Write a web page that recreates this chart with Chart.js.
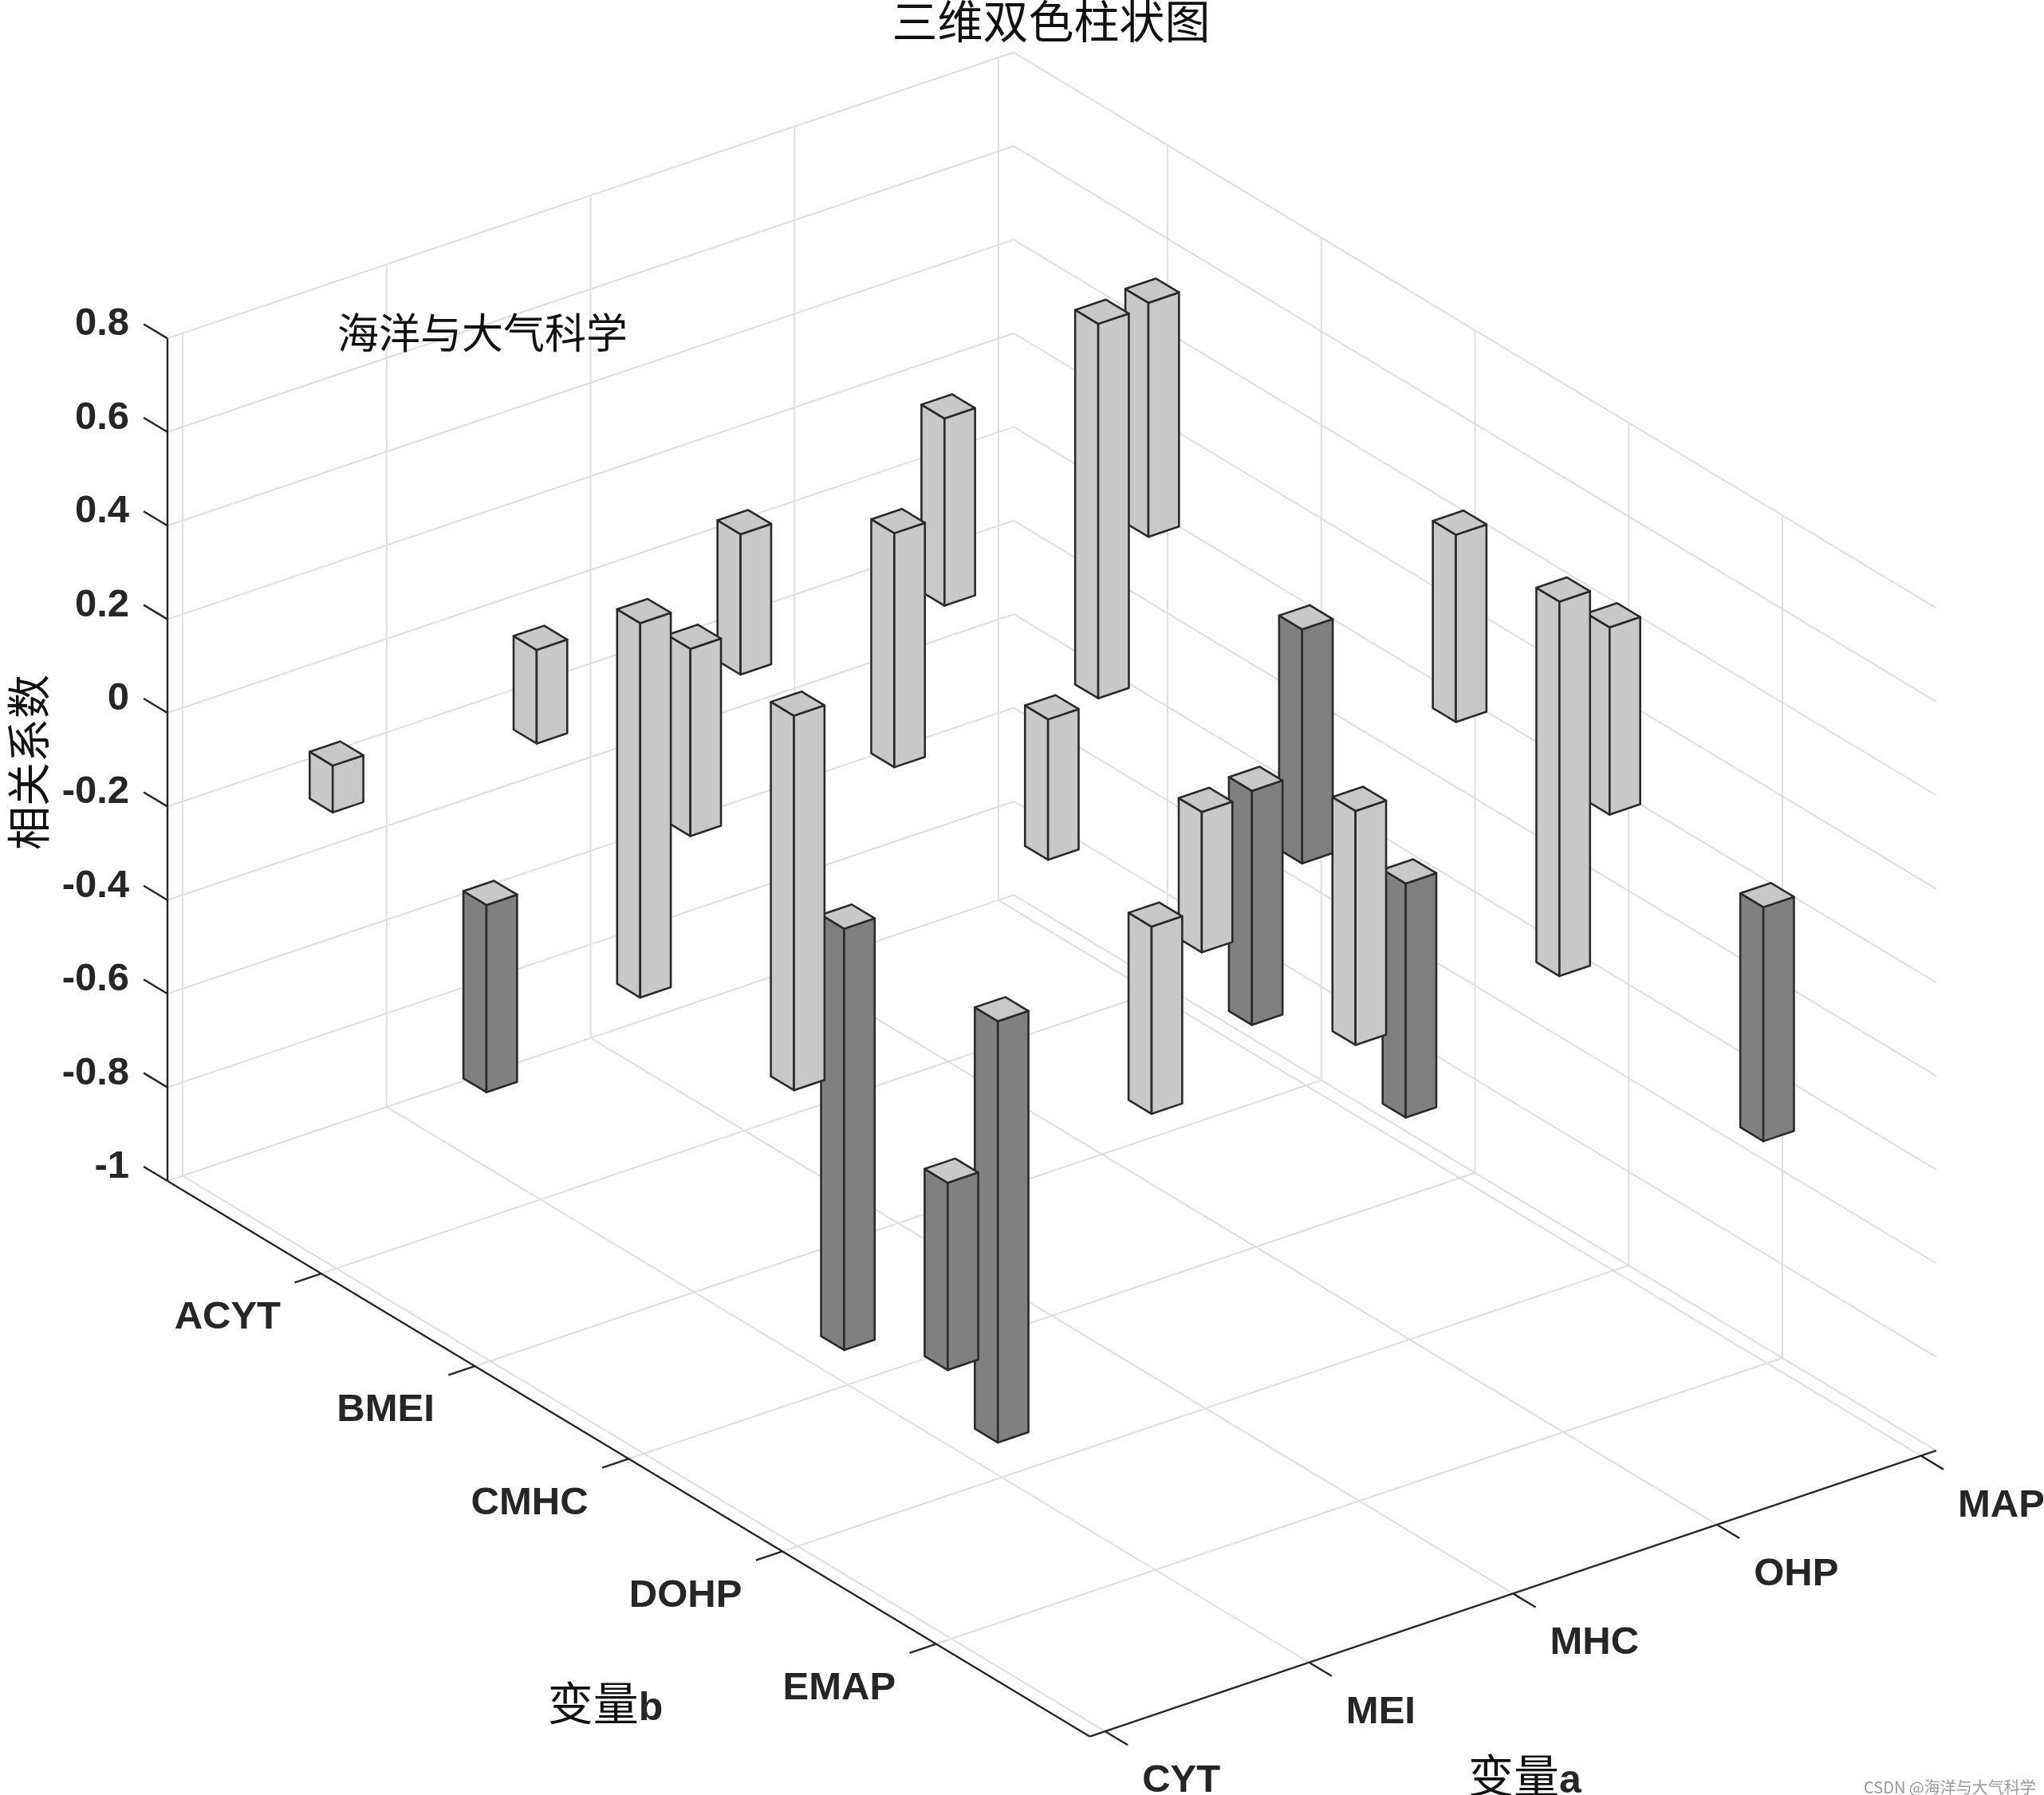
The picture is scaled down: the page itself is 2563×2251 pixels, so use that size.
<!DOCTYPE html>
<html>
<head>
<meta charset="utf-8">
<script src="https://cdn.jsdelivr.net/npm/chart.js@4.4.1/dist/chart.umd.min.js"></script>
<style>
html,body{margin:0;padding:0;background:#ffffff;overflow:hidden}
#wrap{width:2563px;height:2251px;position:relative}
canvas{display:block}
</style>
</head>
<body>
<div id="wrap"><canvas id="c" width="2563" height="2251"></canvas></div>
<script>
// ---------------- data ----------------
const varA = ['CYT', 'MEI', 'MHC', 'OHP', 'MAP'];          // 变量a
const varB = ['ACYT', 'BMEI', 'CMHC', 'DOHP', 'EMAP'];     // 变量b
const zTicks = [-1, -0.8, -0.6, -0.4, -0.2, 0, 0.2, 0.4, 0.6, 0.8];
const zTickLabels = ['-1', '-0.8', '-0.6', '-0.4', '-0.2', '0', '0.2', '0.4', '0.6', '0.8'];
// correlation of each 变量a row against ACYT..EMAP
const valCYT = [0.10, -0.40, 0.80, 0.80, -0.40];
const valMEI = [0.20, 0.40, -0.90, -0.90, 0.40];
const valMHC = [0.30, 0.50, 0.30, 0.30, 0.50];
const valOHP = [0.40, 0.80, -0.50, -0.50, 0.80];
const valMAP = [0.50, -0.50, 0.40, 0.40, -0.50];
const values = [valCYT, valMEI, valMHC, valOHP, valMAP];

const titleText = '三维双色柱状图';
const noteText = '海洋与大气科学';
const zTitle = '相关系数';
const watermark = 'CSDN @海洋与大气科学';

// ---------------- geometry / style ----------------
const GEOM = { aMin: 0.925, aMax: 5.075, bMin: 0, bMax: 6, zMin: -1, zMax: 0.8, barW: 0.15 };
// oblique projection of the 3-D box onto the 2-D (u,v) plane of the chart scales
const PROJ = { ax: 0.4356, ay: 0.1472, bx: 0.3284, by: -0.1978 };
const STYLE = {
  grid: '#dedede', axis: '#262626', edge: '#2a2a2a',
  pos: '#c8c8c8', neg: '#808080', top: '#c8c8c8',
  latin: "'Liberation Sans', Arial, sans-serif",
  cjk: "'Noto Sans CJK SC', 'Noto Sans CJK JP', sans-serif"
};

const bar3dPlugin = {
  id: 'bar3d',
  afterDraw(chart) {
    const ctx = chart.ctx, xs = chart.scales.x, ys = chart.scales.y;
    const P = (a, b, z) => {
      const u = (a - GEOM.aMin) * PROJ.ax + (b - GEOM.bMin) * PROJ.bx;
      const v = z + (a - GEOM.aMin) * PROJ.ay + (b - GEOM.bMin) * PROJ.by;
      return [xs.getPixelForValue(u), ys.getPixelForValue(v)];
    };
    const line = (p, q) => { ctx.beginPath(); ctx.moveTo(p[0], p[1]); ctx.lineTo(q[0], q[1]); ctx.stroke(); };
    const poly = (pts, fill) => {
      ctx.beginPath();
      ctx.moveTo(pts[0][0], pts[0][1]);
      for (let i = 1; i < pts.length; i++) ctx.lineTo(pts[i][0], pts[i][1]);
      ctx.closePath();
      ctx.fillStyle = fill; ctx.fill(); ctx.stroke();
    };
    const aPos = varA.map((_, i) => i + 1);
    const bPos = varB.map((_, i) => i + 1);
    const { aMin, aMax, bMin, bMax, zMin, zMax, barW } = GEOM;

    ctx.save();
    // ---- grid: back-left wall, back-right wall, floor ----
    ctx.strokeStyle = STYLE.grid; ctx.lineWidth = 2;
    aPos.forEach(a => line(P(a, bMin, zMin), P(a, bMin, zMax)));
    zTicks.forEach(z => line(P(aMin, bMin, z), P(aMax, bMin, z)));
    bPos.forEach(b => line(P(aMax, b, zMin), P(aMax, b, zMax)));
    zTicks.forEach(z => line(P(aMax, bMin, z), P(aMax, bMax, z)));
    aPos.forEach(a => line(P(a, bMin, zMin), P(a, bMax, zMin)));
    bPos.forEach(b => line(P(aMin, b, zMin), P(aMax, b, zMin)));

    // ---- axes ----
    ctx.strokeStyle = STYLE.axis; ctx.lineWidth = 2.4;
    line(P(aMin, bMin, zMin), P(aMin, bMin, zMax));
    line(P(aMin, bMin, zMin), P(aMin, bMax, zMin));
    line(P(aMin, bMax, zMin), P(aMax, bMax, zMin));
    ctx.fillStyle = STYLE.axis;
    ctx.font = 'bold 49px ' + STYLE.latin;
    ctx.textBaseline = 'alphabetic';
    // z ticks
    ctx.textAlign = 'right';
    zTicks.forEach((z, i) => {
      const p = P(aMin, bMin, z), q = P(aMin, bMin - 0.155, z);
      line(p, q);
      ctx.fillText(zTickLabels[i], q[0] - 18, q[1] + 14);
    });
    // b ticks
    bPos.forEach((b, i) => {
      const p = P(aMin, b, zMin), q = P(aMin - 0.13, b, zMin);
      line(p, q);
      ctx.fillText(varB[i], q[0] - 17.5, q[1] + 58);
    });
    // a ticks
    ctx.textAlign = 'left';
    aPos.forEach((a, i) => {
      const p = P(a, bMax, zMin), q = P(a, bMax + 0.147, zMin);
      line(p, q);
      ctx.fillText(varA[i], q[0] + 18, q[1] + 59);
    });

    // ---- bars (painter's order: far to near) ----
    const bars = [];
    values.forEach((row, i) => row.forEach((val, j) => bars.push({ a: aPos[i], b: bPos[j], val })));
    bars.sort((m, n) => P(m.a, m.b, 0)[1] - P(n.a, n.b, 0)[1]);
    ctx.strokeStyle = STYLE.edge; ctx.lineWidth = 2.6; ctx.lineJoin = 'round';
    bars.forEach(({ a, b, val }) => {
      const lo = Math.min(0, val), hi = Math.max(0, val);
      const a0 = a - barW / 2, a1 = a + barW / 2, b0 = b - barW / 2, b1 = b + barW / 2;
      const side = val >= 0 ? STYLE.pos : STYLE.neg;
      poly([P(a0, b0, lo), P(a0, b1, lo), P(a0, b1, hi), P(a0, b0, hi)], side);
      poly([P(a0, b1, lo), P(a1, b1, lo), P(a1, b1, hi), P(a0, b1, hi)], side);
      poly([P(a0, b0, hi), P(a0, b1, hi), P(a1, b1, hi), P(a1, b0, hi)], STYLE.top);
    });

    // ---- texts ----
    ctx.fillStyle = '#111111';
    ctx.textAlign = 'center'; ctx.textBaseline = 'middle';
    ctx.font = '57px ' + STYLE.cjk;
    ctx.fillText(titleText, 1318, 26);
    ctx.textAlign = 'left';
    ctx.font = '52px ' + STYLE.cjk;
    ctx.fillText(noteText, 423, 417);

    // z title (rotated)
    ctx.save();
    ctx.translate(35, 956); ctx.rotate(-Math.PI / 2);
    ctx.textAlign = 'center'; ctx.font = '55px ' + STYLE.cjk;
    ctx.fillText(zTitle, 0, 0);
    ctx.restore();

    // mixed-font axis titles
    const mixed = (cjkPart, latinPart, cx, baseY) => {
      ctx.textBaseline = 'alphabetic'; ctx.textAlign = 'left';
      ctx.font = '57px ' + STYLE.cjk; const w1 = ctx.measureText(cjkPart).width;
      ctx.font = 'bold 50px ' + STYLE.latin; const w2 = ctx.measureText(latinPart).width;
      const x0 = cx - (w1 + w2) / 2;
      ctx.font = '57px ' + STYLE.cjk; ctx.fillStyle = '#111111'; ctx.fillText(cjkPart, x0, baseY);
      ctx.font = 'bold 50px ' + STYLE.latin; ctx.fillStyle = STYLE.axis; ctx.fillText(latinPart, x0 + w1, baseY);
    };
    mixed('变量', 'b', 759, 2157);
    mixed('变量', 'a', 1912, 2248);

    // watermark
    ctx.fillStyle = '#9a9a9a'; ctx.textAlign = 'left'; ctx.textBaseline = 'alphabetic';
    ctx.font = '20px ' + STYLE.cjk;
    ctx.fillText(watermark, 2337, 2249);
    ctx.restore();
  }
};

new Chart(document.getElementById('c'), {
  type: 'scatter',
  data: { datasets: [] },
  options: {
    responsive: false,
    devicePixelRatio: 1,
    animation: false,
    events: [],
    layout: { padding: 0 },
    plugins: { legend: { display: false }, tooltip: { enabled: false }, title: { display: false } },
    scales: {
      x: { type: 'linear', display: false, min: -0.35775, max: 4.00852 },
      y: { type: 'linear', display: false, min: -2.31175, max: 1.52300 }
    }
  },
  plugins: [bar3dPlugin]
});
</script>
</body>
</html>
